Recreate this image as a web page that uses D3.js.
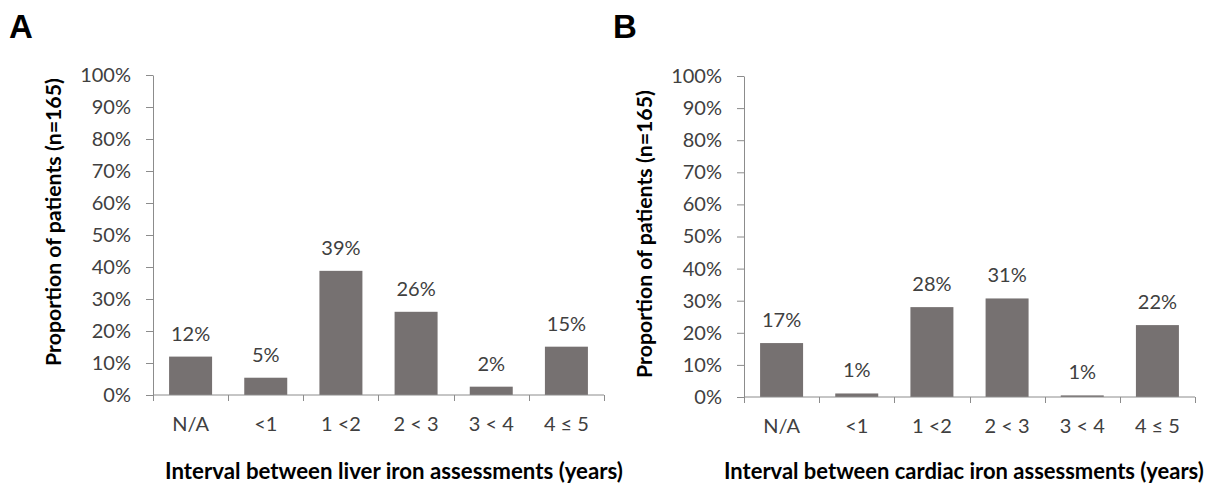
<!DOCTYPE html>
<html><head><meta charset="utf-8">
<script src="https://cdn.jsdelivr.net/npm/d3@7"></script>
<style>
html,body{margin:0;padding:0;background:#fff;}
svg{display:block;}
</style>
</head><body>
<svg id="chart" width="1219" height="486"></svg>
<script>
// ---- data ----
const categories = ["N/A", "<1", "1 <2", "2 < 3", "3 < 4", "4 \u2264 5"];
const liverValues = [12.0, 5.4, 38.8, 26.0, 2.6, 15.1];
const liverLabels = ["12%", "5%", "39%", "26%", "2%", "15%"];
const cardiacValues = [16.8, 1.1, 28.0, 30.7, 0.5, 22.4];
const cardiacLabels = ["17%", "1%", "28%", "31%", "1%", "22%"];
const yTickValues = [0, 10, 20, 30, 40, 50, 60, 70, 80, 90, 100];
const yTitle = "Proportion of patients (n=165)";
const liverTitle = "Interval between liver iron assessments (years)";
const cardiacTitle = "Interval between cardiac iron assessments (years)";

const svg = d3.select("#chart");
const BAR = "#767171", AXIS = "#8c8c8c", TXT = "#404040";
const FONT = "Lato, 'Open Sans', sans-serif";

function fitWidth(sel, target) {
  const w = sel.node().getComputedTextLength();
  const fs = parseFloat(sel.attr("font-size"));
  sel.attr("font-size", fs * target / w);
}

function panel(cfg) {
  const g = svg.append("g");
  const x = d3.scaleBand().domain(categories).range([cfg.x0, cfg.x1]).paddingInner(0.428).paddingOuter(0.214);
  const y = d3.scaleLinear().domain([0, 100]).range([cfg.y0, cfg.y1]);

  // y axis
  const ya = g.append("g").attr("transform", `translate(${cfg.x0},0)`)
    .call(d3.axisLeft(y).tickValues(yTickValues).tickSize(7).tickSizeOuter(0).tickPadding(15).tickFormat(d => d + "%"));
  ya.select(".domain").attr("stroke", AXIS);
  ya.selectAll(".tick line").attr("stroke", AXIS);
  ya.selectAll("text").attr("font-family", FONT).attr("font-size", 20).attr("fill", TXT);

  // bars
  g.selectAll("rect").data(cfg.values).join("rect")
    .attr("x", (d, i) => x(categories[i]))
    .attr("width", x.bandwidth())
    .attr("y", d => y(d))
    .attr("height", d => y(0) - y(d))
    .attr("fill", BAR);

  // value labels
  g.selectAll("text.val").data(cfg.values).join("text").attr("class", "val")
    .attr("x", (d, i) => x(categories[i]) + x.bandwidth() / 2)
    .attr("y", d => y(d) - 16)
    .attr("text-anchor", "middle")
    .attr("font-family", FONT).attr("font-size", 20).attr("fill", TXT)
    .text((d, i) => cfg.labels[i]);

  // x axis labels
  const xa = g.append("g").attr("transform", `translate(0,${cfg.y0})`)
    .call(d3.axisBottom(x).tickSize(0).tickPadding(22));
  xa.select(".domain").remove();
  xa.selectAll("text").attr("font-family", FONT).attr("font-size", 20).attr("fill", TXT);

  // x axis line and boundary ticks
  g.append("line").attr("x1", cfg.x0).attr("x2", cfg.x1).attr("y1", cfg.y0).attr("y2", cfg.y0).attr("stroke", AXIS);
  const bounds = categories.map(c => x(c) - x.step() * x.paddingInner() / 2).concat([cfg.x1]);
  g.selectAll("line.bt").data(bounds).join("line").attr("class", "bt")
    .attr("x1", d => Math.round(d) + 0.5).attr("x2", d => Math.round(d) + 0.5)
    .attr("y1", cfg.y0).attr("y2", cfg.y0 + 6).attr("stroke", AXIS);

  // y title
  const yt = g.append("text")
    .attr("transform", `translate(${cfg.x0 - 92},${cfg.ytCenter}) rotate(-90)`)
    .attr("text-anchor", "middle")
    .attr("font-family", FONT).attr("font-weight", "bold").attr("font-size", 20).attr("fill", "#000")
    .text(yTitle);
  fitWidth(yt, 288);

  // x title
  const xt = g.append("text")
    .attr("x", cfg.xtX).attr("y", 479)
    .attr("font-family", FONT).attr("font-weight", "bold").attr("font-size", 20).attr("fill", "#000")
    .text(cfg.title);
  fitWidth(xt, cfg.xtW);

  // panel letter
  g.append("text").attr("x", cfg.letterX).attr("y", 38)
    .attr("font-family", "'Liberation Sans', Arial, sans-serif").attr("font-weight", "bold")
    .attr("font-size", 33).attr("fill", "#000").text(cfg.letter);
}

panel({x0: 153, x1: 604, y0: 395, y1: 75, values: liverValues, labels: liverLabels,
       ytCenter: 222, title: liverTitle, xtX: 165, xtW: 458, letter: "A", letterX: 9});
panel({x0: 744, x1: 1195, y0: 397, y1: 76, values: cardiacValues, labels: cardiacLabels,
       ytCenter: 234, title: cardiacTitle, xtX: 724, xtW: 480, letter: "B", letterX: 613});
</script>
</body></html>
